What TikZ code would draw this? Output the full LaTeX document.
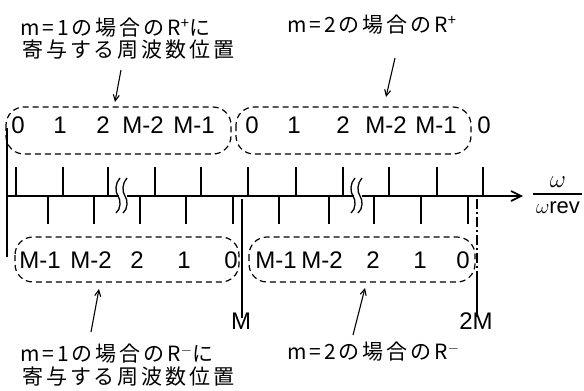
\documentclass[tikz,border=0pt]{standalone}
\usepackage{fontspec}
\setmainfont{Liberation Sans}
\newfontfamily\jp[LetterSpace=14]{Noto Sans CJK JP}
\usetikzlibrary{arrows.meta}
\begin{document}
\begin{tikzpicture}[x=1pt,y=-1pt,
  lbl/.style={font=\fontsize{24}{24}\selectfont, inner sep=0pt},
  jtxt/.style={font=\jp\fontsize{21}{21}\selectfont, inner sep=0pt, anchor=west},
  grp/.style={draw, dash pattern=on 6pt off 4pt, rounded corners=18pt, line width=1.2pt},
  tick/.style={line width=1.4pt},
  ptr/.style={line width=1.1pt, -{Straight Barb[length=6pt,width=6pt]}},
  brk/.style={line width=1.3pt}]
\useasboundingbox (0,0) rectangle (584,391);

% dashed groups
\draw[grp] (6,107) rectangle (231,154);
\draw[grp] (236,107) rectangle (471,154);
\draw[grp] (15,237) rectangle (239,282);
\draw[grp] (249,237) rectangle (475,282);

% axis
\draw[line width=1.7pt] (7,196) -- (119,196);
\draw[line width=1.7pt] (127,196) -- (354,196);
\draw[line width=1.7pt, -{Straight Barb[length=10pt,width=10pt]}] (362,196) -- (523,196);
\draw[tick] (7,128) -- (7,257);

% break marks
\foreach \b in {116,351}{
  \draw[brk] (\b+4,178) .. controls (\b-1,183) and (\b-1,192) .. (\b+2,196)
                        .. controls (\b+5,200) and (\b+5,209) .. (\b,213);
  \draw[brk] (\b+11,178) .. controls (\b+6,183) and (\b+6,192) .. (\b+9,196)
                        .. controls (\b+12,200) and (\b+12,209) .. (\b+7,213);
}

% ticks
\foreach \x in {16,63,108,155,201,248,296,343,389,437,483}
  \draw[tick] (\x,167) -- (\x,196);
\foreach \x in {48,94,140,186,233,279,329,374,421,468}
  \draw[tick] (\x,196) -- (\x,224);

% upper labels
\foreach \x/\t [count=\i] in {18/0,60/1,103/2,143/M-2,194/M-1,252/0,294/1,343/2,386/M-2,436/M-1,484/0}
  \node[lbl] (u\i) at (\x,125) {\t};
% lower labels
\foreach \x/\t [count=\i] in {40/M-1,91/M-2,137/2,184/1,231/0,276/M-1,322/M-2,373/2,420/1,463/0}
  \node[lbl] (l\i) at (\x,260) {\t};

% M and 2M markers
\node[lbl] (mM) at (241,321) {M};
\node[lbl] (m2M) at (476,321) {2M};
\coordinate (mtop) at (242,199);
\coordinate (m2top) at (477,199);
\coordinate (m2mid) at (477,272);
\draw[tick] (mtop) -- ([yshift=-5pt]mM.north -| mtop);
\draw[tick, dash pattern=on 10pt off 3pt on 2pt off 3pt] (m2top) -- (m2mid);
\draw[tick] (m2mid) -- ([yshift=-5pt]m2M.north -| m2mid);

% omega / omega rev
\node[inner sep=0pt, font=\fontsize{24}{24}\selectfont] (w1) at (558,182) {$\omega$};
\node[inner sep=0pt, font=\fontsize{22}{22}\selectfont] (w2) at (558,208) {$\omega$rev};
\coordinate (fb1) at (533,194);
\coordinate (fb2) at (582,194);
\draw[line width=1.2pt] (fb1) -- (fb2);

% Japanese texts
\node[jtxt] (t1a) at (20,28) {m=1の場合のR\textsuperscript{+}に};
\node[jtxt] (t1b) at (22,50) {寄与する周波数位置};
\node[jtxt] (t2) at (287,25) {m=2の場合のR\textsuperscript{+}};
\node[jtxt] (t3a) at (20,354) {m=1の場合のR\textsuperscript{$-$}に};
\node[jtxt] (t3b) at (22,377) {寄与する周波数位置};
\node[jtxt] (t4) at (287,352) {m=2の場合のR\textsuperscript{$-$}};

% pointers
\coordinate (p1s) at (121,70);  \coordinate (p1e) at (115,102);
\coordinate (p2s) at (395,58);  \coordinate (p2e) at (386,97);
\coordinate (p3s) at (91,332);  \coordinate (p3e) at (99,289);
\coordinate (p4s) at (353,335); \coordinate (p4e) at (365,288);
\draw[ptr] (p1s) -- (p1e);
\draw[ptr] (p2s) -- (p2e);
\draw[ptr] (p3s) -- (p3e);
\draw[ptr] (p4s) -- (p4e);
\end{tikzpicture}
\end{document}
